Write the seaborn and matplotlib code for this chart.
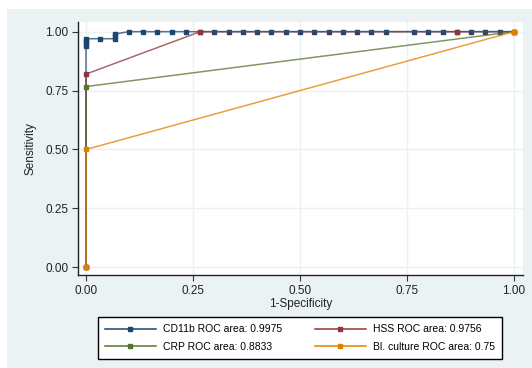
import pandas as pd
import matplotlib.pyplot as plt
import matplotlib.patches as mpatches
from matplotlib.lines import Line2D
import seaborn as sns

# ROC points (1-specificity, sensitivity)
cd11b_fpr = [0.000, 0.000, 0.000, 0.000, 0.000, 0.033, 0.067, 0.067, 0.067,
             0.100, 0.133, 0.167, 0.200, 0.233, 0.267, 0.300, 0.333, 0.367,
             0.400, 0.433, 0.467, 0.500, 0.533, 0.567, 0.600, 0.633, 0.667,
             0.700, 0.767, 0.800, 0.833, 0.867, 0.900, 0.933, 0.967, 1.000]
cd11b_sens = [0.000, 0.940, 0.950, 0.960, 0.970, 0.970, 0.970, 0.980, 0.990,
              1.000, 1.000, 1.000, 1.000, 1.000, 1.000, 1.000, 1.000, 1.000,
              1.000, 1.000, 1.000, 1.000, 1.000, 1.000, 1.000, 1.000, 1.000,
              1.000, 1.000, 1.000, 1.000, 1.000, 1.000, 1.000, 1.000, 1.000]
hss_fpr = [0.000, 0.000, 0.267, 0.867, 1.000]
hss_sens = [0.000, 0.820, 1.000, 1.000, 1.000]
crp_fpr = [0.000, 0.000, 1.000]
crp_sens = [0.000, 0.767, 1.000]
cult_fpr = [0.000, 0.000, 1.000]
cult_sens = [0.000, 0.500, 1.000]

labels = ['CD11b ROC area: 0.9975', 'HSS ROC area: 0.9756',
          'CRP ROC area: 0.8833', 'Bl. culture ROC area: 0.75']
colors = ['#1a476f', '#90353b', '#55752f', '#e37e00']

frames = []
for lab, fx, sy in zip(labels, [cd11b_fpr, hss_fpr, crp_fpr, cult_fpr],
                       [cd11b_sens, hss_sens, crp_sens, cult_sens]):
    frames.append(pd.DataFrame({'fpr': fx, 'sens': sy, 'test': lab}))
df = pd.concat(frames, ignore_index=True)

bg = '#eaf2f3'
plt.rcParams['font.family'] = ['Liberation Sans', 'DejaVu Sans']

fig = plt.figure(figsize=(5.32, 3.68), dpi=100, facecolor='white')
# bluish background leaving a thin white strip at left and top
fig.patches.append(mpatches.Rectangle((7 / 532, 0), 1, 1 - 9 / 368,
                                      transform=fig.transFigure,
                                      facecolor=bg, edgecolor='none', zorder=-5))
ax = fig.add_axes([78 / 532, 1 - 275 / 368, 445 / 532, 253 / 368])
ax.set_facecolor('white')

for lab, col in zip(labels, colors):
    sub = df[df['test'] == lab]
    sns.lineplot(data=sub, x='fpr', y='sens', ax=ax, color=col,
                 estimator=None, sort=False, linewidth=1.1, alpha=0.75,
                 legend=False)
    ax.plot(sub['fpr'], sub['sens'], linestyle='none', marker='s',
            markersize=3.2, color=col)

ax.set_xlim(-0.0187, 1.021)
ax.set_ylim(-0.0327, 1.041)
ticks = [0, 0.25, 0.5, 0.75, 1.0]
ax.set_xticks(ticks)
ax.set_yticks(ticks)
ax.set_xticklabels(['0.00', '0.25', '0.50', '0.75', '1.00'])
ax.set_yticklabels(['0.00', '0.25', '0.50', '0.75', '1.00'])
ax.grid(True, color=bg, linewidth=1.0)
ax.set_axisbelow(True)
ax.tick_params(labelsize=8.5, length=4, width=0.8, color='#333333',
               labelcolor='#222222', pad=3)
for s in ['top', 'right']:
    ax.spines[s].set_visible(False)
for s in ['left', 'bottom']:
    ax.spines[s].set_color('#222222')
    ax.spines[s].set_linewidth(1.0)
ax.set_xlabel('1-Specificity', fontsize=8.5, labelpad=1, color='#222222')
ax.set_ylabel('Sensitivity', fontsize=8.5, labelpad=6, color='#222222')

handles = [Line2D([0], [0], color=c, marker='s', markersize=3, linewidth=1.1)
           for c in colors]
order = [0, 2, 1, 3]
leg = fig.legend([handles[i] for i in order], [labels[i] for i in order],
                 loc='center', bbox_to_anchor=(300 / 532, 1 - 338 / 368),
                 ncol=2, fontsize=7.5, frameon=True, fancybox=False,
                 handlelength=4.9, columnspacing=3.1, handletextpad=0.7,
                 labelspacing=0.7, borderpad=0.7, framealpha=1)
leg.get_frame().set_edgecolor('black')
leg.get_frame().set_linewidth(1.0)

fig.savefig('out.png', dpi=100, facecolor=fig.get_facecolor())
